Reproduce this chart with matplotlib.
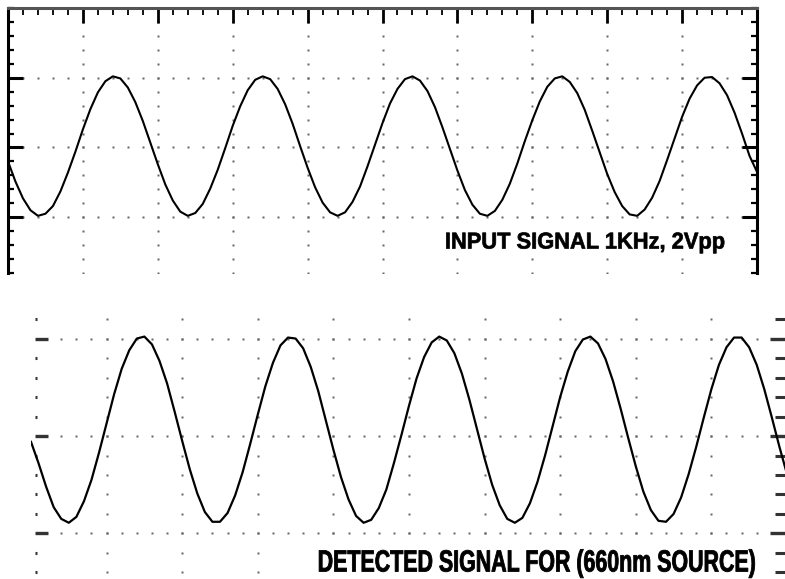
import numpy as np
import matplotlib
matplotlib.use("Agg")
import matplotlib.pyplot as plt
from matplotlib.ticker import MultipleLocator, FixedLocator
from matplotlib.patheffects import AbstractPathEffect
from matplotlib.transforms import Affine2D
from matplotlib.path import Path

# time axis in scope divisions (0.1 div steps, 10 divisions across)
t_div = np.round(np.arange(101) * 0.1, 1)

# input trace (divisions)
input_sig = [
    -0.20, -0.49, -0.73, -0.90, -0.98, -0.95, -0.84, -0.63, -0.36, -0.06,
    0.26, 0.55, 0.79, 0.95, 1.02, 0.99, 0.86, 0.65, 0.38, 0.07,
    -0.24, -0.53, -0.76, -0.92, -0.98, -0.94, -0.81, -0.59, -0.32, -0.01,
    0.31, 0.59, 0.82, 0.97, 1.02, 0.98, 0.84, 0.62, 0.34, 0.02,
    -0.29, -0.57, -0.79, -0.93, -0.98, -0.93, -0.78, -0.56, -0.27, 0.04,
    0.35, 0.63, 0.84, 0.98, 1.02, 0.96, 0.81, 0.58, 0.29, -0.02,
    -0.33, -0.61, -0.82, -0.95, -0.98, -0.91, -0.75, -0.52, -0.23, 0.09,
    0.39, 0.66, 0.87, 0.99, 1.02, 0.94, 0.78, 0.54, 0.24, -0.07,
    -0.38, -0.64, -0.84, -0.96, -0.98, -0.89, -0.72, -0.48, -0.18, 0.13,
    0.44, 0.70, 0.89, 1.00, 1.01, 0.92, 0.75, 0.50, 0.20, -0.12,
    -0.35,
]

# detected trace (divisions)
detected_sig = [
    -0.06, -0.28, -0.52, -0.73, -0.85, -0.89, -0.83, -0.67, -0.45, -0.17,
    0.13, 0.43, 0.69, 0.88, 1.00, 1.02, 0.94, 0.77, 0.54, 0.25,
    -0.05, -0.34, -0.59, -0.78, -0.88, -0.88, -0.79, -0.61, -0.37, -0.08,
    0.22, 0.51, 0.75, 0.93, 1.01, 1.00, 0.90, 0.71, 0.46, 0.16,
    -0.14, -0.42, -0.65, -0.82, -0.89, -0.86, -0.74, -0.55, -0.28, 0.01,
    0.31, 0.59, 0.81, 0.96, 1.02, 0.98, 0.85, 0.64, 0.37, 0.07,
    -0.23, -0.50, -0.71, -0.85, -0.89, -0.84, -0.69, -0.47, -0.20, 0.10,
    0.40, 0.66, 0.87, 0.99, 1.02, 0.95, 0.79, 0.56, 0.28, -0.02,
    -0.31, -0.57, -0.76, -0.87, -0.88, -0.80, -0.63, -0.39, -0.11, 0.19,
    0.48, 0.73, 0.91, 1.01, 1.01, 0.91, 0.73, 0.48, 0.19, -0.11,
    -0.39,
]

input_label = "INPUT SIGNAL 1KHz, 2Vpp"
detected_label = "DETECTED SIGNAL FOR (660nm SOURCE)"


class SqueezeText(AbstractPathEffect):
    """Draw the text squeezed sideways (about its right end) on a white box."""

    def __init__(self, sx, stroke=0.0, pad=1.5):
        super().__init__()
        self.sx = sx
        self.stroke = stroke
        self.pad = pad

    def draw_path(self, renderer, gc, tpath, affine, rgbFace=None):
        x1 = tpath.get_extents(affine).x1
        aff = affine + Affine2D().translate(-x1, 0).scale(self.sx, 1).translate(x1, 0)
        e = tpath.get_extents(aff)
        p = renderer.points_to_pixels(self.pad)
        box = Path([(e.x0 - p, e.y0 - p), (e.x1 + p, e.y0 - p),
                    (e.x1 + p, e.y1 + p), (e.x0 - p, e.y1 + p),
                    (e.x0 - p, e.y0 - p)], closed=True)
        gc0 = renderer.new_gc()
        gc0.copy_properties(gc)
        gc0.set_linewidth(0)
        renderer.draw_path(gc0, box, Affine2D(), (1, 1, 1, 1))
        gc0.restore()
        gc1 = renderer.new_gc()
        gc1.copy_properties(gc)
        gc1.set_linewidth(self.stroke)
        gc1.set_foreground(rgbFace)
        renderer.draw_path(gc1, tpath, aff, rgbFace)
        gc1.restore()


W, H = 785, 579
fig = plt.figure(figsize=(W / 100, H / 100), dpi=100)
fig.patch.set_facecolor("white")

ax_top = fig.add_axes([8 / W, 1 - 273 / H, 749 / W, 265 / H])
ax_bot = fig.add_axes([31 / W, 0, 754 / W, 270 / H])

dot_col = "#666666"


def dotted_grid(ax, ylo, yhi, ms=1.7):
    # dotted graticule: 3 horizontal lines, 9 vertical lines, dots every 0.2 div
    xs = np.arange(1, 50) * 0.2
    for yl in (-1, 0, 1):
        ax.plot(xs, np.full_like(xs, yl), ls="none", marker="s", ms=ms,
                mec="none", mfc=dot_col, zorder=1)
    ys = np.round(np.arange(ylo, yhi + 0.01, 0.2), 1)
    for xl in range(1, 10):
        ax.plot(np.full_like(ys, xl), ys, ls="none", marker="s", ms=ms,
                mec="none", mfc=dot_col, zorder=1)


# ---- top screen ----
ax_top.set_xlim(0, 10)
ax_top.set_ylim(-1.8, 2.0)
dotted_grid(ax_top, -1.8, 1.8)
ax_top.plot(t_div, input_sig, color="black", lw=1.5, zorder=3)

ax_top.spines["bottom"].set_visible(False)
ax_top.spines["top"].set_color("#555555")
for s in ("top", "left", "right"):
    ax_top.spines[s].set_linewidth(2.2)
ax_top.spines["left"].set_color("black")
ax_top.spines["right"].set_color("black")

ax_top.xaxis.set_major_locator(MultipleLocator(1))
ax_top.xaxis.set_minor_locator(MultipleLocator(0.2))
ax_top.yaxis.set_major_locator(FixedLocator([-1, 0, 1]))
ax_top.yaxis.set_minor_locator(MultipleLocator(0.2))
ax_top.tick_params(axis="x", which="both", top=True, bottom=False,
                   labeltop=False, labelbottom=False, direction="in",
                   color="black")
ax_top.tick_params(axis="x", which="major", length=11, width=2)
ax_top.tick_params(axis="x", which="minor", length=5, width=1.3)
ax_top.tick_params(axis="y", which="both", left=True, right=True,
                   labelleft=False, labelright=False, direction="in",
                   color="black")
ax_top.tick_params(axis="y", which="major", length=11, width=2.2)
ax_top.tick_params(axis="y", which="minor", length=4, width=1.6)

ax_top.text(9.565, -1.449, input_label, ha="right", va="baseline",
            fontsize=16.5, fontweight="bold",
            family=["Liberation Sans", "DejaVu Sans"], color="black",
            path_effects=[SqueezeText(0.954, stroke=0.5)], zorder=4)

# ---- bottom screen ----
ax_bot.set_xlim(0, 9.974)
ax_bot.set_ylim(-1.467, 1.303)
dotted_grid(ax_bot, -1.4, 1.2, ms=2.0)
ax_bot.plot(t_div, detected_sig, color="black", lw=1.6, zorder=3)

for s in ax_bot.spines.values():
    s.set_visible(False)
ax_bot.spines["left"].set_position(("data", 0.05))
ax_bot.set_xticks([])
ax_bot.yaxis.set_major_locator(FixedLocator([-1, 0, 1]))
ax_bot.yaxis.set_minor_locator(MultipleLocator(0.2))
ax_bot.tick_params(axis="y", which="both", left=True, right=True,
                   labelleft=False, labelright=False, direction="in",
                   color="#333333")
ax_bot.tick_params(axis="y", which="major", width=2.4)
ax_bot.tick_params(axis="y", which="minor", width=2.2)
# left edge: short dashes + dots, right edge: dashes of two lengths
for tk in ax_bot.yaxis.get_major_ticks():
    tk.tick1line.set_markersize(9.5)
    tk.tick2line.set_markersize(11)
for tk in ax_bot.yaxis.get_minor_ticks():
    tk.tick1line.set_markersize(1.5)
    tk.tick2line.set_markersize(7)

ax_bot.text(9.577, -1.39, detected_label, ha="right", va="baseline",
            fontsize=22, fontweight="bold",
            family=["Liberation Sans", "DejaVu Sans"], color="black",
            path_effects=[SqueezeText(0.70, stroke=0.6)], zorder=4)

fig.savefig("out.png", dpi=100)
